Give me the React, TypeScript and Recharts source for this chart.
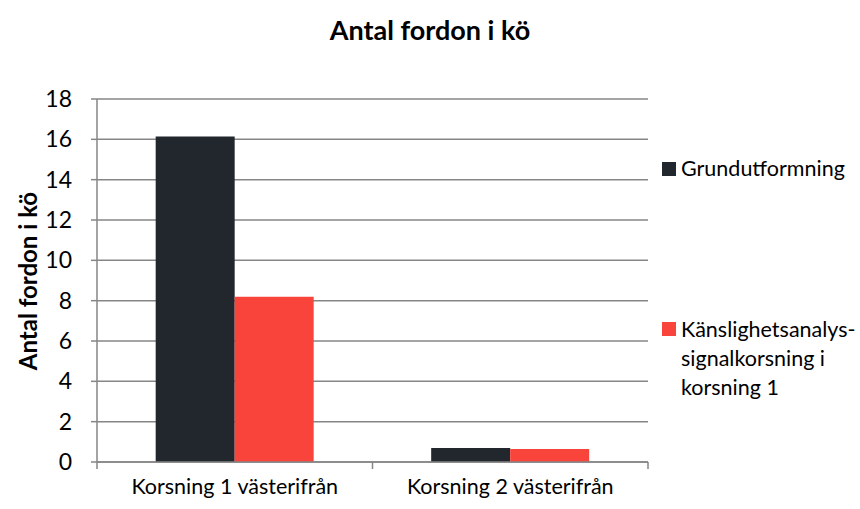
import { Bar, BarChart, CartesianGrid, XAxis, YAxis } from "recharts";

const categories = ["Korsning 1 västerifrån", "Korsning 2 västerifrån"];
const grundutformning = [16.14, 0.69];
const kanslighet = [8.2, 0.64];
const yTicks = [0, 2, 4, 6, 8, 10, 12, 14, 16, 18];

const seriesNames = ["Grundutformning", "Känslighetsanalys-signalkorsning i korsning 1"];
const seriesColors = ["#22272d", "#f9443c"];

const data = categories.map((name, i) => ({
  name,
  grund: grundutformning[i],
  kansl: kanslighet[i],
}));

const FONT = "Lato, 'Open Sans', sans-serif";
const AXIS = "#868686";

function CategoryTick(props: any) {
  const { x, y, payload, index } = props;
  const half = payload.offset ?? 0;
  const last = index === categories.length - 1;
  return (
    <g>
      <line x1={x - half} x2={x - half} y1={y - 8} y2={y - 1} stroke={AXIS} strokeWidth={1.5} />
      {last && (
        <line x1={x + half} x2={x + half} y1={y - 8} y2={y - 1} stroke={AXIS} strokeWidth={1.5} />
      )}
      <text x={x} y={y + 24} textAnchor="middle" fontSize={21.5} fill="#000" fontFamily={FONT}>
        {payload.value}
      </text>
    </g>
  );
}

export default function App() {
  return (
    <div
      style={{
        position: "absolute",
        left: 0,
        top: 0,
        width: 860,
        height: 509,
        background: "#fff",
        fontFamily: FONT,
      }}
    >
      <div
        style={{
          position: "absolute",
          top: 13,
          left: 0,
          width: 860,
          textAlign: "center",
          fontWeight: 700,
          fontSize: 27,
        }}
      >
        Antal fordon i kö
      </div>
      <div
        style={{
          position: "absolute",
          left: 27,
          top: 281,
          transform: "translate(-50%, -50%) rotate(-90deg)",
          whiteSpace: "nowrap",
          fontWeight: 700,
          fontSize: 24,
        }}
      >
        Antal fordon i kö
      </div>
      <BarChart
        width={860}
        height={509}
        data={data}
        margin={{ top: 99, right: 212, left: 37, bottom: 0 }}
        barCategoryGap="21.3%"
        barGap={0}
      >
        <CartesianGrid vertical={false} stroke={AXIS} strokeWidth={1.5} />
        <XAxis
          dataKey="name"
          height={47}
          stroke={AXIS}
          strokeWidth={1.5}
          tickLine={false}
          tick={<CategoryTick />}
          interval={0}
        />
        <YAxis
          width={60}
          domain={[0, 18]}
          ticks={yTicks}
          stroke={AXIS}
          strokeWidth={1.5}
          tickSize={6}
          tickMargin={19}
          tick={{ fontSize: 23, fill: "#000", fontFamily: FONT }}
        />
        <Bar dataKey="grund" fill={seriesColors[0]} isAnimationActive={false} />
        <Bar dataKey="kansl" fill={seriesColors[1]} isAnimationActive={false} />
      </BarChart>
      <div style={{ position: "absolute", left: 662, top: 154, fontSize: 21.5 }}>
        <div style={{ display: "flex", alignItems: "flex-start", lineHeight: "29px" }}>
          <span
            style={{
              width: 14,
              height: 14,
              background: seriesColors[0],
              marginTop: 8,
              marginRight: 5,
              flex: "none",
            }}
          />
          <span>{seriesNames[0]}</span>
        </div>
      </div>
      <div style={{ position: "absolute", left: 662, top: 315, fontSize: 21.5, width: 196 }}>
        <div style={{ display: "flex", alignItems: "flex-start", lineHeight: "29px" }}>
          <span
            style={{
              width: 14,
              height: 14,
              background: seriesColors[1],
              marginTop: 7,
              marginRight: 5,
              flex: "none",
            }}
          />
          <span>
            Känslighetsanalys-
            <br />
            signalkorsning i
            <br />
            korsning 1
          </span>
        </div>
      </div>
    </div>
  );
}
